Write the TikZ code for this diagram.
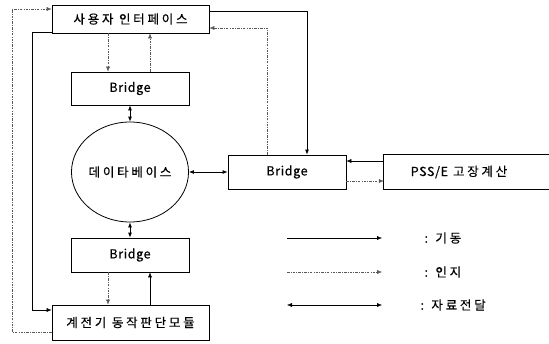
\documentclass[tikz,border=0pt]{standalone}
\usepackage{fontspec}
\setmainfont{Noto Sans CJK KR}[FakeBold=0.4, LetterSpace=5]
\newfontfamily\kr{Noto Sans CJK KR}[FakeBold=0.4, LetterSpace=22]
\usetikzlibrary{arrows.meta,shapes.geometric}

\begin{document}
\begin{tikzpicture}[x=1pt, y=-1pt, font=\fontsize{12.5}{14}\selectfont,
        blk/.style={draw, thick, inner sep=0pt},
        hangul/.style={font=\kr\fontsize{12.5}{14}\selectfont},
        actline/.style={-{Latex[length=5pt,width=4pt]}},
        senseline/.style={-{Latex[length=5pt,width=4pt]}, black!65, dash pattern=on 2.5pt off 1.2pt on 0.8pt off 1.2pt},
        dataline/.style={{Latex[length=5pt,width=4pt]}-{Latex[length=5pt,width=4pt]}, thick}]
        \useasboundingbox (0,0) rectangle (549,343);
        % 블록
        \node[blk, hangul, minimum width=157pt, minimum height=28pt] (ui) at (130.5,19) {사용자 인터페이스};
        \node[blk, minimum width=118pt, minimum height=33pt] (bt) at (130,88.5) {Bridge};
        \node[draw, thick, hangul, ellipse, minimum width=116pt, minimum height=100pt, inner sep=0pt] (db) at (130,172) {데이타베이스};
        \node[blk, minimum width=118pt, minimum height=34pt] (bb) at (130,255) {Bridge};
        \node[blk, hangul, minimum width=157pt, minimum height=35pt] (rm) at (130.5,322.5) {계전기 동작판단모듈};
        \node[blk, minimum width=118pt, minimum height=34pt] (bm) at (287,172) {Bridge};
        \node[inner sep=0pt, minimum width=150pt, minimum height=34pt] (pss) at (459,172) {PSS/E\hspace{5pt}{\kr 고장계산}};
        \draw[thick] (pss.north west) ++(165,0) -- (pss.north west) -- (pss.south west) -- ++(165,0);
        % 보조 좌표
        \coordinate (c1) at (108,0);
        \coordinate (c2) at (150,0);
        \coordinate (r1) at (307,11);
        \coordinate (r2) at (267,28);
        \coordinate (l1) at (32,32);
        \coordinate (l1b) at (32,310);
        \coordinate (l2) at (12,332);
        \coordinate (l2b) at (12,9);
        \coordinate (h1) at (0,161);
        \coordinate (h2) at (0,181);
        % 기동
        \draw[actline, thick] (ui.east |- r1) -| (bm.north -| r1);
        \draw[actline] (ui.west |- l1) -- (l1) -- (l1b) -- (rm.west |- l1b);
        \draw[actline] (rm.north -| c2) -- (bb.south -| c2);
        \draw[actline] (pss.west |- h1) -- (bm.east |- h1);
        % 인지
        \draw[senseline] (bm.north -| r2) |- (ui.east |- r2);
        \draw[senseline] (rm.west |- l2) -- (l2) -- (l2b) -- (ui.west |- l2b);
        \draw[senseline] (ui.south -| c1) -- (bt.north -| c1);
        \draw[senseline] (bt.north -| c2) -- (ui.south -| c2);
        \draw[senseline] (bb.south -| c1) -- (rm.north -| c1);
        \draw[senseline] (bm.east |- h2) -- (pss.west |- h2);
        % 자료전달
        \draw[dataline] (bt.south) -- (db.north);
        \draw[dataline] (db.south) -- (bb.north);
        \draw[dataline] (db.east) -- (bm.west);
        % 범례
        \coordinate (ka) at (287,238);
        \coordinate (kb) at (382,238);
        \coordinate (ia) at (287,272);
        \coordinate (ib) at (382,272);
        \coordinate (ja) at (287,305);
        \coordinate (jb) at (382,305);
        \draw[actline] (ka) -- (kb);
        \draw[senseline] (ia) -- (ib);
        \draw[dataline, thin] (ja) -- (jb);
        \node[hangul, anchor=west] (kt) at (421,238) {: 기동};
        \node[hangul, anchor=west] (it) at (421,272) {: 인지};
        \node[hangul, anchor=west] (jt) at (417,305) {: 자료전달};
    \end{tikzpicture}
\end{document}
